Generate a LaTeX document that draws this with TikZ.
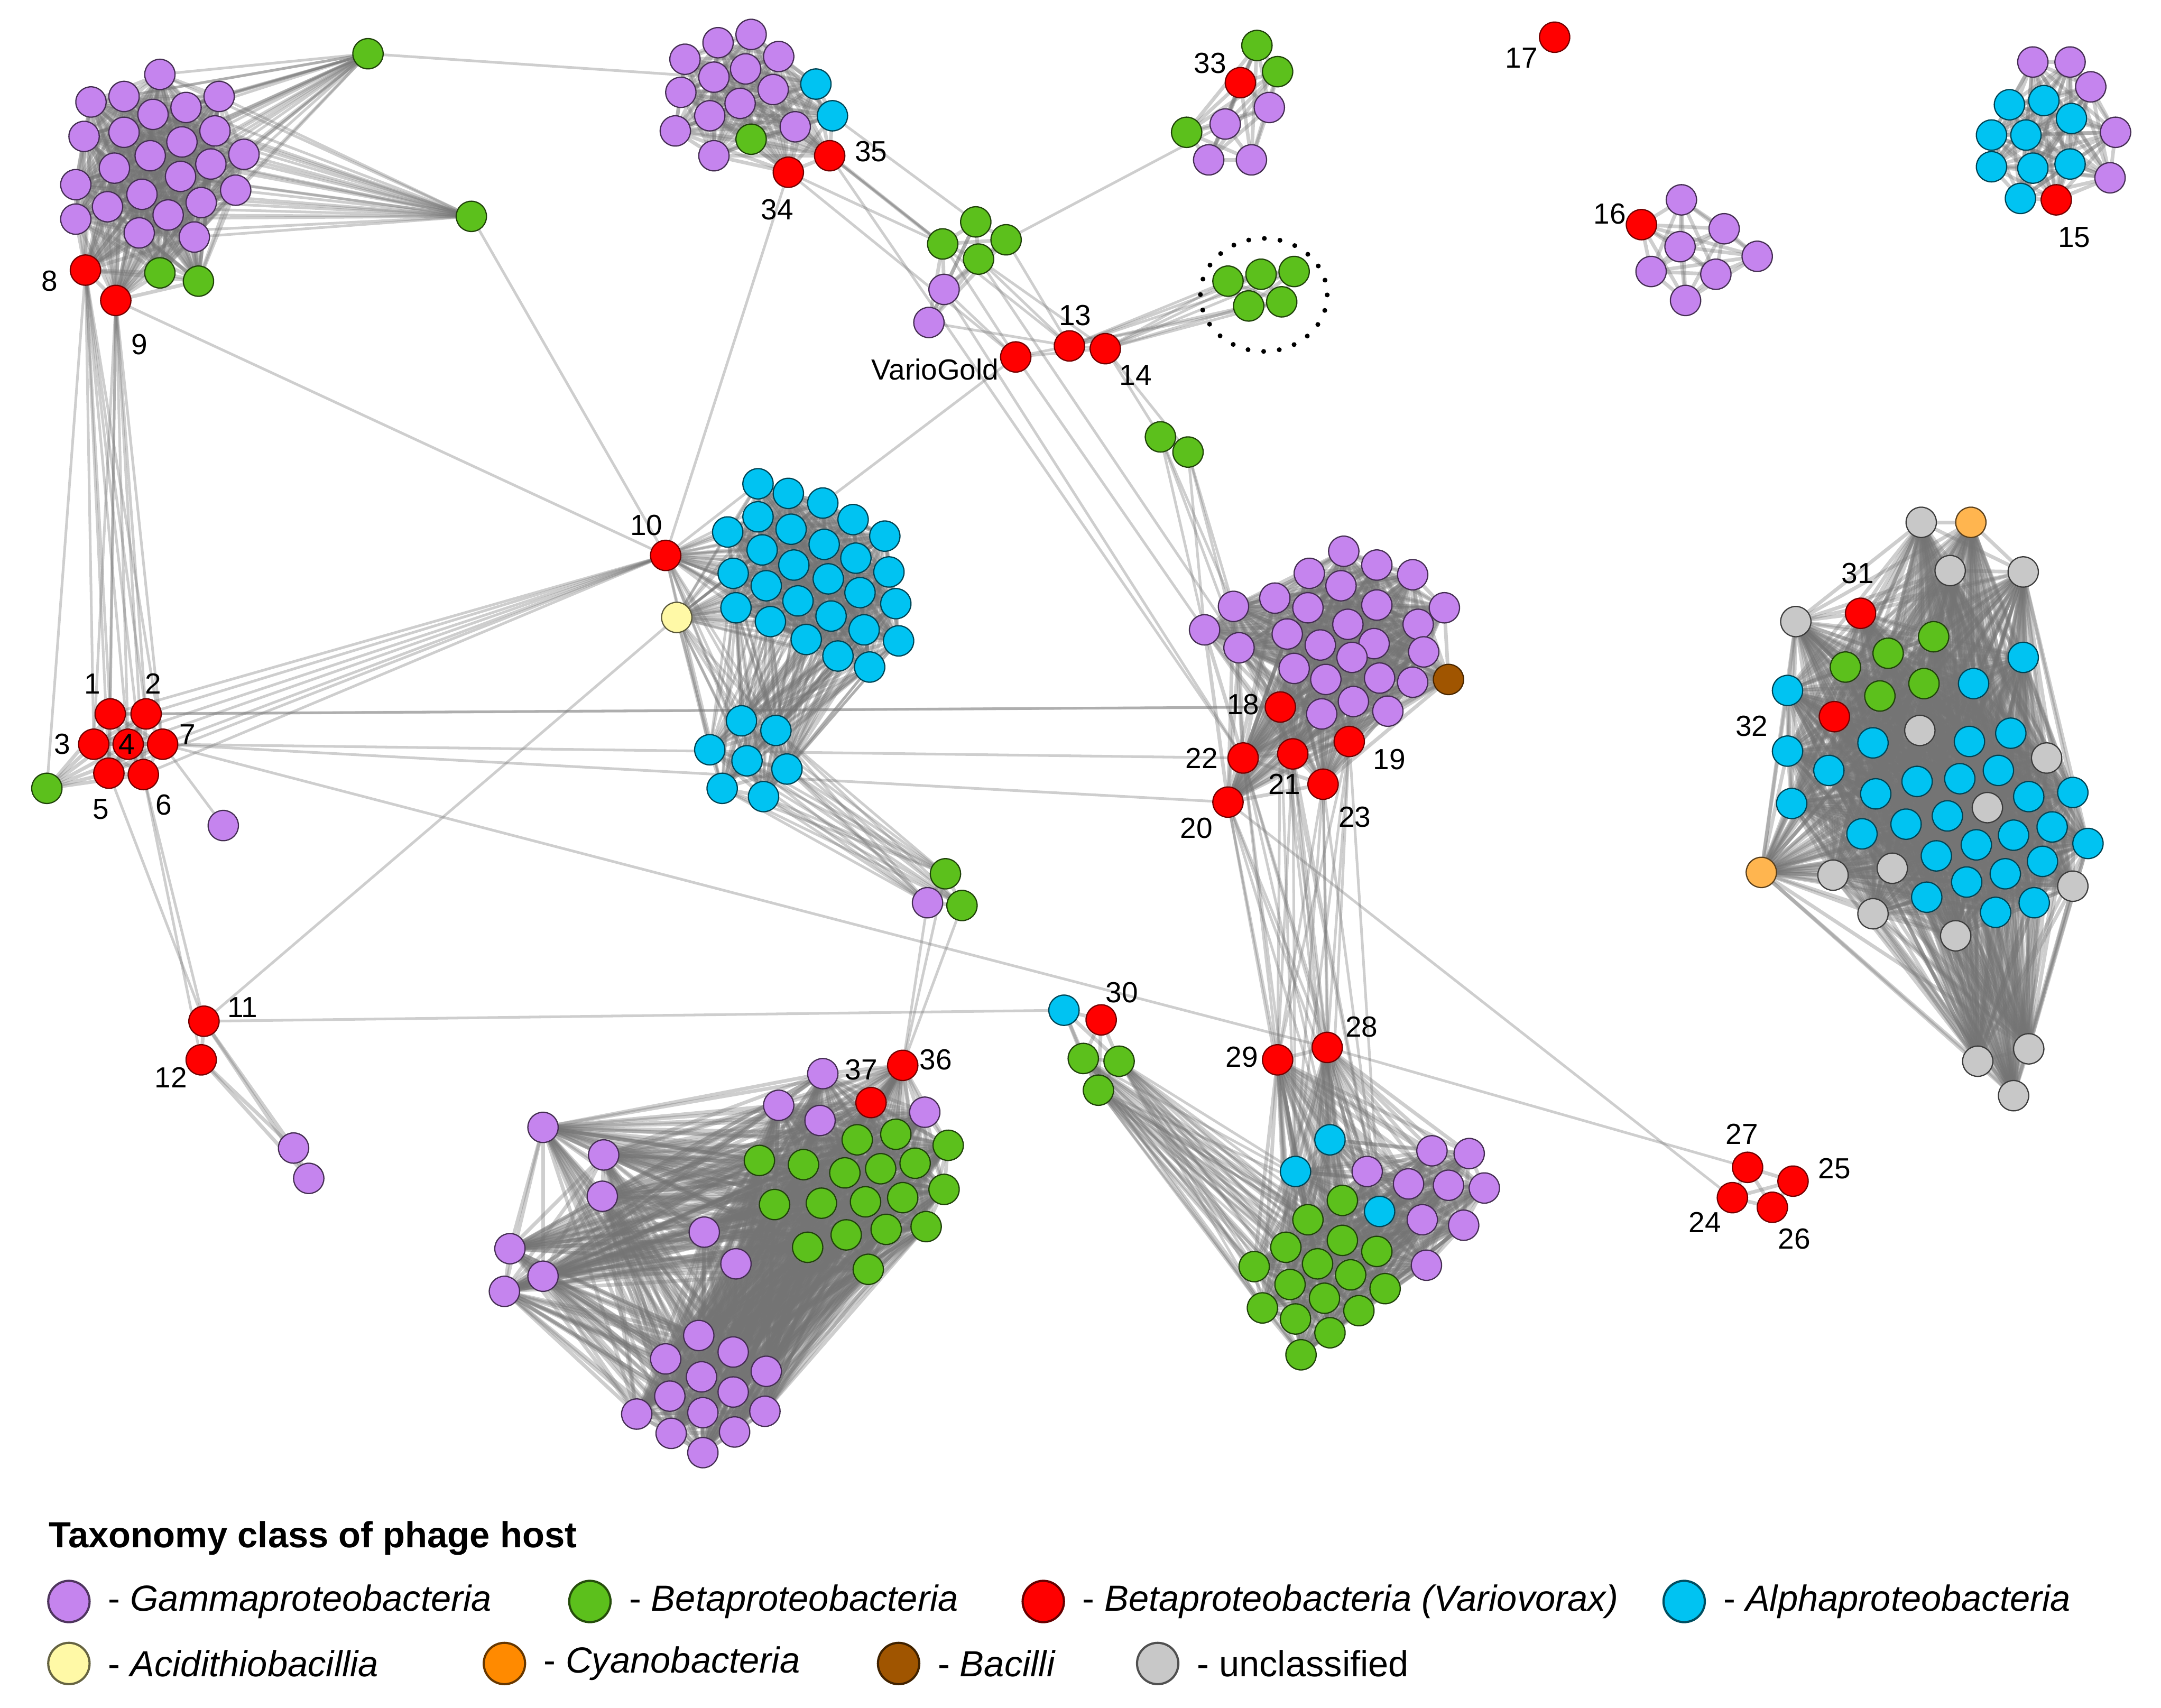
\documentclass[tikz,border=0pt]{standalone}
\usepackage{fontspec}
\setmainfont{Liberation Sans}
\usetikzlibrary{backgrounds, positioning}

\definecolor{cgam}{HTML}{C584EE}
\definecolor{cbet}{HTML}{5CC01C}
\definecolor{cvar}{HTML}{FF0000}
\definecolor{calp}{HTML}{00C3F2}
\definecolor{caci}{HTML}{FFF9A6}
\definecolor{ccya}{HTML}{FFB54F}
\definecolor{ccyaleg}{HTML}{FF8A00}
\definecolor{cbac}{HTML}{A05500}
\definecolor{cunc}{HTML}{C8C8C8}

% x/y/class lists -> nodes prefix1, prefix2, ...
\newcommand\placehosts[2]{\foreach \x/\y/\c [count=\k] in {#2} \node[\c] (#1\k) at (\x,\y) {};}
\newcommand\linkall[2]{\begin{scope}[links, line width=1.5pt]\foreach \i in {1,...,#2}{\foreach \j in {1,...,#2}{\ifnum\i<\j \draw (#1\i.center) -- (#1\j.center);\fi}}\end{scope}}
\newcommand\linkto[3]{\begin{scope}[links]\foreach \i in {#2} \draw (#1\i.center) -- (#3.center);\end{scope}}

\begin{document}
\begin{tikzpicture}[x=0.02cm, y=-0.02cm,
    host/.style={circle, minimum size=0.44cm, inner sep=0pt, line width=0.5pt},
    gam/.style={host, fill=cgam, draw=cgam!35!black},
    bet/.style={host, fill=cbet, draw=cbet!35!black},
    var/.style={host, fill=cvar, draw=cvar!45!black},
    alp/.style={host, fill=calp, draw=calp!35!black},
    aci/.style={host, fill=caci, draw=caci!35!black},
    cya/.style={host, fill=ccya, draw=ccya!35!black},
    bac/.style={host, fill=cbac, draw=cbac!45!black},
    unc/.style={host, fill=cunc, draw=cunc!30!black},
    links/.style={color=black!55, line width=1.1pt, draw opacity=0.35},
    lbl/.style={font=\fontsize{12}{14}\selectfont, inner sep=0pt},
    ring/.style={line width=2pt, dash pattern=on 0pt off 6.5pt, line cap=round},
    key/.style={circle, minimum size=0.6cm, inner sep=0pt, line width=0.9pt},
    keytxt/.style={font=\fontsize{15}{18}\selectfont, inner sep=0pt}]
  %tikz  phage network, host classes
  \useasboundingbox (0,0) rectangle (1568,1239);

  % top left (tl25 = 8, tl26 = 9)
  \placehosts{tl}{116/54/gam, 66/74/gam, 90/70/gam, 159/70/gam, 111/83/gam, 135/78/gam, 61/99/gam, 90/96/gam, 156/95/gam, 132/103/gam, 177/112/gam, 109/113/gam, 83/122/gam, 153/119/gam, 131/128/gam, 55/134/gam, 171/138/gam, 103/141/gam, 78/150/gam, 146/147/gam, 55/159/gam, 122/156/gam, 101/169/gam, 141/172/gam, 62/196/var, 84/218/var, 116/198/bet, 144/204/bet}
  \node[bet] (ga) at (267,39) {};
  \node[bet] (gb) at (342,157) {};
  % 1..7
  \placehosts{r}{80/518/var, 106/518/var, 68/540/var, 93/540/var, 79/561/var, 104/562/var, 118/540/var, 34/572/bet}
  \node[gam] (pl) at (162,599) {};
  % 11, 12
  \placehosts{el}{148/741/var, 146/769/var, 213/833/gam, 224/855/gam}
  % top middle (tm17 = 35, tm18 = 34)
  \placehosts{tm}{545/25/gam, 521/31/gam, 497/43/gam, 565/41/gam, 541/50/gam, 518/56/gam, 494/67/gam, 561/65/gam, 537/75/gam, 515/84/gam, 490/95/gam, 577/92/gam, 518/113/gam, 592/61/alp, 604/84/alp, 545/101/bet, 602/113/var, 572/125/var}
  \placehosts{fg}{708/161/bet, 684/177/bet, 730/174/bet, 710/188/bet, 685/210/gam, 674/234/gam}
  \node[var] (vg) at (737,259) {};
  \node[var] (v13) at (776,251) {};
  \node[var] (v14) at (802,253) {};
  \placehosts{dg}{891/204/bet, 915/199/bet, 939/197/bet, 906/222/bet, 930/219/bet}
  \draw[ring] (917,214) ellipse [x radius=46, y radius=41];
  \placehosts{q33}{900/60/var, 912/33/bet, 927/52/bet, 921/78/gam, 889/90/gam, 861/96/bet, 877/116/gam, 908/116/gam}
  \node[var] (v17) at (1128,27) {};
  \placehosts{q16}{1191/163/var, 1220/145/gam, 1251/166/gam, 1219/179/gam, 1275/186/gam, 1198/197/gam, 1245/199/gam, 1223/218/gam}
  \placehosts{q15}{1475/45/gam, 1502/45/gam, 1517/63/gam, 1535/96/gam, 1531/129/gam, 1458/76/alp, 1483/73/alp, 1503/86/alp, 1445/98/alp, 1470/98/alp, 1445/121/alp, 1475/122/alp, 1502/119/alp, 1466/144/alp, 1492/145/var}
  % 10 and the alpha groups
  \node[var] (v10) at (483,403) {};
  \node[aci] (ya) at (491,448) {};
  \placehosts{bl}{550/351/alp, 572/358/alp, 597/365/alp, 619/377/alp, 642/389/alp, 550/375/alp, 528/386/alp, 574/384/alp, 553/399/alp, 598/395/alp, 576/410/alp, 621/405/alp, 532/416/alp, 645/415/alp, 556/425/alp, 601/420/alp, 624/430/alp, 534/441/alp, 579/436/alp, 650/438/alp, 559/451/alp, 603/447/alp, 627/457/alp, 652/465/alp, 585/464/alp, 608/476/alp, 631/484/alp}
  \placehosts{bs}{538/523/alp, 563/530/alp, 515/544/alp, 542/552/alp, 571/558/alp, 524/572/alp, 554/578/alp}
  \placehosts{tr}{686/634/bet, 673/655/gam, 698/657/bet}
  % centre (pc28..33 = 18, 19, 20, 21, 22, 23)
  \placehosts{gp}{842/317/bet, 862/328/bet}
  \placehosts{pc}{975/400/gam, 999/410/gam, 1025/417/gam, 950/416/gam, 973/425/gam, 1048/441/gam, 895/440/gam, 925/434/gam, 949/441/gam, 999/439/gam, 874/457/gam, 1029/453/gam, 978/453/gam, 934/460/gam, 899/470/gam, 958/468/gam, 997/467/gam, 1033/473/gam, 981/477/gam, 939/485/gam, 962/493/gam, 1001/492/gam, 1025/495/gam, 982/509/gam, 959/518/gam, 1007/516/gam, 1051/493/bac, 929/513/var, 979/538/var, 891/582/var, 938/547/var, 902/550/var, 960/569/var}
  % bottom middle (bm1 = 29, bm2 = 28), 30
  \placehosts{bm}{927/769/var, 963/760/var, 965/827/alp, 940/850/alp, 1001/879/alp, 1039/835/gam, 1066/837/gam, 992/850/gam, 1022/859/gam, 1051/860/gam, 1077/862/gam, 1032/885/gam, 1062/889/gam, 1035/918/gam, 974/871/bet, 949/885/bet, 933/905/bet, 974/900/bet, 999/908/bet, 910/919/bet, 956/917/bet, 980/925/bet, 936/932/bet, 1005/935/bet, 916/949/bet, 961/942/bet, 986/951/bet, 940/957/bet, 965/967/bet, 944/983/bet}
  \placehosts{h}{772/733/alp, 799/740/var, 786/768/bet, 812/770/bet, 797/791/bet}
  % bottom left (bk1 = 36, bk2 = 37)
  \placehosts{bk}{655/773/var, 632/800/var, 597/779/gam, 565/802/gam, 595/813/gam, 671/807/gam, 622/827/bet, 650/823/bet, 688/831/bet, 551/842/bet, 583/845/bet, 613/851/bet, 639/848/bet, 664/844/bet, 685/863/bet, 562/874/bet, 596/873/bet, 628/872/bet, 655/869/bet, 614/896/bet, 643/892/bet, 672/890/bet, 586/905/bet, 630/921/bet, 394/818/gam, 438/838/gam, 437/868/gam, 370/906/gam, 394/926/gam, 366/937/gam, 511/894/gam, 534/917/gam, 507/969/gam, 483/986/gam, 532/981/gam, 556/995/gam, 509/999/gam, 486/1013/gam, 532/1010/gam, 462/1026/gam, 510/1025/gam, 555/1024/gam, 487/1040/gam, 533/1039/gam, 510/1054/gam}
  % 24..27 (q241 = 27, q242 = 25, q243 = 24, q244 = 26)
  \placehosts{q24}{1268/847/var, 1301/857/var, 1257/869/var, 1286/876/var}
  % right (rc5 = 31, rc15 = 32)
  \placehosts{rc}{1394/379/unc, 1430/379/cya, 1415/414/unc, 1468/415/unc, 1350/445/var, 1303/451/unc, 1403/462/bet, 1370/474/bet, 1339/484/bet, 1468/477/alp, 1396/496/bet, 1364/505/bet, 1432/496/alp, 1297/501/alp, 1331/520/var, 1393/530/unc, 1359/539/alp, 1429/538/alp, 1459/532/alp, 1297/545/alp, 1485/550/unc, 1327/559/alp, 1391/567/alp, 1422/565/alp, 1450/559/alp, 1361/576/alp, 1300/583/alp, 1442/586/unc, 1472/578/alp, 1504/575/alp, 1413/592/alp, 1383/598/alp, 1489/600/alp, 1351/605/alp, 1461/606/alp, 1434/613/alp, 1515/612/alp, 1405/621/alp, 1278/633/cya, 1330/635/unc, 1373/630/unc, 1455/634/alp, 1482/625/alp, 1427/640/alp, 1504/643/unc, 1398/651/alp, 1448/662/alp, 1476/655/alp, 1359/663/unc, 1419/679/unc, 1435/770/unc, 1472/761/unc, 1461/795/unc}

  % links
  \begin{scope}[on background layer]
    \linkall{tl}{28} \linkall{r}{8} \linkall{el}{4} \linkall{tm}{18} \linkall{fg}{6}
    \linkall{dg}{5} \linkall{q33}{8} \linkall{q16}{8} \linkall{q15}{15}
    \linkall{bl}{27} \linkall{bs}{7} \linkall{tr}{3} \linkall{gp}{2} \linkall{pc}{33}
    \linkall{bm}{30} \linkall{h}{5} \linkall{bk}{45} \linkall{q24}{4} \linkall{rc}{53}
    \linkto{tl}{1,...,24}{ga} \linkto{tl}{1,...,24}{gb}
    \linkto{r}{1,...,8}{tl25} \linkto{r}{1,...,7}{tl26}
    \linkto{r}{1,...,7}{v10}
    \linkto{bl}{1,...,27}{v10} \linkto{bl}{1,...,27}{ya}
    \linkto{bs}{1,...,7}{v10} \linkto{bs}{1,...,7}{ya}
    \foreach \m in {1,...,7} {\linkto{bl}{13,...,27}{bs\m}}
    \foreach \m in {1,2,3} {\linkto{bs}{1,...,7}{tr\m}}
    \linkto{tr}{1,2,3}{bk1}
    \foreach \m in {1,...,5} {\linkto{pc}{28,...,33}{bm\m}}
    \foreach \m in {3,4,5} {\linkto{bm}{15,...,30}{h\m}}
    \linkto{dg}{1,...,5}{v13} \linkto{dg}{1,...,5}{v14}
    \linkto{gp}{1,2}{v14} \linkto{gp}{1,2}{pc7} \linkto{gp}{1,2}{pc11} \linkto{gp}{1,2}{pc15}
    \begin{scope}[links]
    \foreach \a/\b in {ga/tm6, gb/v10, tl26/v10, tm18/v10, r7/pl, r5/el1, r6/el1, r6/el2,
        el1/ya, el1/h1, r1/pc28, r2/pc28, r7/pc32, r7/pc30, r7/bm2,
        tm17/fg2, tm18/fg2, tm12/fg2, tm15/fg1, tm17/v13, tm17/pc32, tm18/vg,
        fg3/v13, fg4/v13, fg4/v14, fg2/vg, fg5/vg, fg6/v13, fg3/q335,
        vg/v13, v13/v14, vg/v14, vg/bl3, vg/pc11, fg5/pc32, fg4/pc28,
        pc30/q243, bm2/q241}
      \draw (\a.center) -- (\b.center);
    \end{scope}
  \end{scope}

  % labels
  \foreach \t/\x/\y in {1/67/496, 2/111/496, 3/45/540, 4/92/540, 5/73/587, 6/119/584, 7/136/533,
      8/36/204, 9/101/250, 10/469/381, 11/176/731, 12/124/782, 13/780/229, 14/824/272,
      15/1505/172, 16/1168/155, 17/1104/42, 18/902/511, 19/1008/551, 20/868/601,
      21/932/569, 22/872/550, 23/983/593, 24/1237/887, 25/1331/848, 26/1302/899,
      27/1264/823, 28/988/745, 29/901/767, 30/814/720, 31/1348/416, 32/1271/527,
      33/878/46, 34/564/152, 35/632/110, 36/679/769, 37/625/776}
    \node[lbl] (t\t) at (\x,\y) {\t};
  \node[lbl, anchor=east] (tvg) at (725,268) {VarioGold};

  % legend
  \node[keytxt, font=\bfseries\fontsize{15}{18}\selectfont, anchor=west] (ktitle) at (35,1116) {Taxonomy class of phage host};
  \foreach \c/\x/\y/\txt [count=\k] in {
      cgam/50/1162/{- \textit{Gammaproteobacteria}},
      cbet/428/1162/{- \textit{Betaproteobacteria}},
      cvar/757/1162/{- \textit{Betaproteobacteria (Variovorax)}},
      calp/1222/1162/{- \textit{Alphaproteobacteria}},
      caci/50/1207/{- \textit{Acidithiobacillia}},
      ccyaleg/366/1207/{- \textit{Cyanobacteria}},
      cbac/652/1207/{- \textit{Bacilli}},
      cunc/840/1207/{- unclassified}}{
    \node[key, fill=\c, draw=\c!40!black] (k\k) at (\x,\y) {};
    \node[keytxt, right=7pt of k\k] (kt\k) {\txt};
  }
\end{tikzpicture}
\end{document}
